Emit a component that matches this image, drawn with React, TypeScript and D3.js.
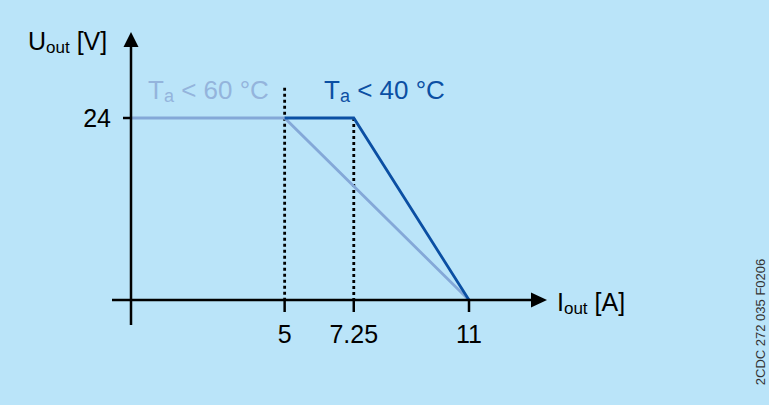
import * as d3 from 'd3'
import React from 'react'

const xTicks = [5, 7.25, 11]
const yTicks = [24]
const curve60 = [
    { i: 0, u: 24 },
    { i: 5, u: 24 },
    { i: 11, u: 0 },
]
const curve40 = [
    { i: 5, u: 24 },
    { i: 7.25, u: 24 },
    { i: 11, u: 0 },
]
const guides = [
    { i: 5, top: 28 },
    { i: 7.25, top: 24 },
]

const App = (): JSX.Element => {
    const width = 769
    const height = 405
    const font = '"Liberation Sans", Arial, Helvetica, sans-serif'

    const x = d3.scaleLinear().domain([0, 11]).range([131, 469])
    const y = d3.scaleLinear().domain([0, 24]).range([300, 118])

    const line = d3
        .line<{ i: number; u: number }>()
        .x((d) => x(d.i))
        .y((d) => y(d.u))

    const light = '#84a8d8'
    const dark = '#0b4fa3'

    return (
        <svg
            width={width}
            height={height}
            style={{ position: 'absolute', left: 0, top: 0, display: 'block' }}
            fontFamily={font}
        >
            <rect x={0} y={0} width={width} height={height} fill="#bae4f9" />

            {/* dotted guides */}
            {guides.map((g) => (
                <line
                    key={g.i}
                    x1={x(g.i)}
                    x2={x(g.i)}
                    y1={y(g.top)}
                    y2={y(0)}
                    stroke="#000"
                    strokeWidth={2.8}
                    strokeDasharray="3 3"
                />
            ))}

            <path d={line(curve60) || ''} fill="none" stroke={light} strokeWidth={2.8} />
            <path d={line(curve40) || ''} fill="none" stroke={dark} strokeWidth={2.8} />

            {/* axes */}
            <line x1={112} x2={536} y1={y(0)} y2={y(0)} stroke="#000" strokeWidth={2.5} />
            <path d={`M547,${y(0)} L531,${y(0) - 7.5} L531,${y(0) + 7.5} Z`} fill="#000" />
            <line x1={x(0)} x2={x(0)} y1={325} y2={44} stroke="#000" strokeWidth={2.5} />
            <path d={`M${x(0)},32 L${x(0) - 7.5},47 L${x(0) + 7.5},47 Z`} fill="#000" />

            {xTicks.map((t) => (
                <g key={t}>
                    <line x1={x(t)} x2={x(t)} y1={y(0)} y2={y(0) + 12} stroke="#000" strokeWidth={2.5} />
                    <text x={x(t)} y={343} textAnchor="middle" fontSize={25} fill="#000">
                        {t}
                    </text>
                </g>
            ))}
            {yTicks.map((t) => (
                <g key={t}>
                    <line x1={x(0) - 8} x2={x(0)} y1={y(t)} y2={y(t)} stroke="#000" strokeWidth={2.5} />
                    <text x={111} y={y(t) + 9} textAnchor="end" fontSize={25} fill="#000">
                        {t}
                    </text>
                </g>
            ))}

            {/* axis titles */}
            <text x={28} y={50} fontSize={25} fill="#000">
                U<tspan fontSize={17} dy={3}>out</tspan>
                <tspan dy={-3}> [V]</tspan>
            </text>
            <text x={557} y={311} fontSize={25} fill="#000">
                I<tspan fontSize={17} dy={3}>out</tspan>
                <tspan dy={-3}> [A]</tspan>
            </text>

            {/* curve labels */}
            <text x={148} y={99} fontSize={26} fill="#94b4dc">
                T<tspan fontSize={18} dy={3}>a</tspan>
                <tspan dy={-3}> &lt; 60 °C</tspan>
            </text>
            <text x={324} y={99} fontSize={26} fill={dark}>
                T<tspan fontSize={18} dy={3}>a</tspan>
                <tspan dy={-3}> &lt; 40 °C</tspan>
            </text>

            <text
                transform="translate(765,322) rotate(-90)"
                textAnchor="middle"
                fontSize={13}
                fill="#333"
            >
                2CDC 272 035 F0206
            </text>
        </svg>
    )
}

export default App
